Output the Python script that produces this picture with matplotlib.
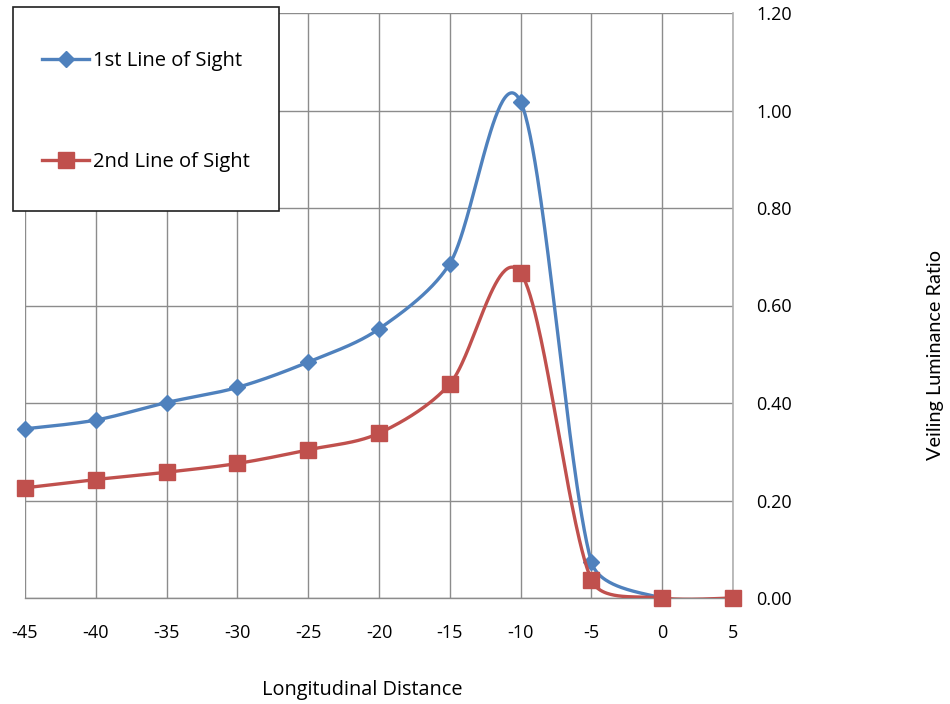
import numpy as np
import matplotlib
matplotlib.use("Agg")
import matplotlib.pyplot as plt
from matplotlib.patches import Rectangle
from matplotlib.lines import Line2D

plt.rcParams['font.family'] = ['Open Sans', 'DejaVu Sans']
plt.rcParams['axes.unicode_minus'] = False

distance = [-45, -40, -35, -30, -25, -20, -15, -10, -5, 0, 5]
first_sight = [0.347, 0.365, 0.401, 0.432, 0.484, 0.552, 0.686, 1.018, 0.074, 0.0, 0.0]
second_sight = [0.226, 0.243, 0.258, 0.276, 0.304, 0.338, 0.439, 0.667, 0.037, 0.0, 0.0]
x_ticks = [-45, -40, -35, -30, -25, -20, -15, -10, -5, 0, 5]
y_ticks = [0.0, 0.2, 0.4, 0.6, 0.8, 1.0, 1.2]

BLUE = '#4F81BD'
RED = '#C0504D'
GRID = '#8C8C8C'


def smooth(ax, xs, ys, n=60, k=1.0 / 3.0):
    """Cubic Bezier through every point (1/6 tangents), built in display space;
    each control arm is limited to k times its segment's chord."""
    p = ax.transData.transform(np.column_stack([xs, ys]).astype(float))
    m = len(p)
    out = []
    for i in range(m - 1):
        p0 = p[i - 1] if i > 0 else p[i]
        p1, p2 = p[i], p[i + 1]
        p3 = p[i + 2] if i + 2 < m else p[i + 1]
        chord = np.hypot(*(p2 - p1))
        a1 = (p2 - p0) / 6.0
        a2 = (p3 - p1) / 6.0
        for a in (a1, a2):
            ln = np.hypot(*a)
            if ln > k * chord > 0:
                a *= k * chord / ln
        c1 = p1 + a1
        c2 = p2 - a2
        t = np.linspace(0, 1, n)[:, None]
        seg = ((1 - t) ** 3) * p1 + 3 * ((1 - t) ** 2) * t * c1 \
            + 3 * (1 - t) * t ** 2 * c2 + t ** 3 * p2
        out.append(seg if i == 0 else seg[1:])
    s = ax.transData.inverted().transform(np.vstack(out))
    return s[:, 0], s[:, 1]


fig = plt.figure(figsize=(9.5, 7.04), dpi=100)
ax = fig.add_axes([25 / 950, 1 - 598 / 704, (733 - 25) / 950, (598 - 13) / 704])

ax.set_xlim(-45, 5)
ax.set_ylim(0, 1.2)
ax.set_xticks(x_ticks)
ax.set_yticks(y_ticks)
ax.set_yticklabels([f'{v:.2f}' for v in y_ticks])
ax.grid(True, color=GRID, lw=1.0)
ax.set_axisbelow(True)
ax.tick_params(length=0, labelsize=13, colors='#000000')
ax.tick_params(axis='x', pad=19)
ax.tick_params(axis='y', pad=17)
ax.yaxis.tick_right()
for lab in ax.get_yticklabels():
    lab.set_horizontalalignment('left')
for side in ['left', 'top']:
    ax.spines[side].set_visible(False)
ax.spines['bottom'].set_color(GRID)
ax.spines['right'].set_color('#B0B0B0')
ax.spines['bottom'].set_linewidth(1.0)
ax.spines['right'].set_linewidth(1.2)

bx, by = smooth(ax, distance, first_sight)
rx, ry = smooth(ax, distance, second_sight)
ax.plot(bx, by, color=BLUE, lw=2.4, solid_capstyle='round', zorder=3)
ax.plot(distance, first_sight, ls='none', marker='D', ms=8, color=BLUE, clip_on=False, zorder=4)
ax.plot(rx, ry, color=RED, lw=2.4, solid_capstyle='round', zorder=5)
ax.plot(distance, second_sight, ls='none', marker='s', ms=11, color=RED, clip_on=False, zorder=6)

fig.text(362 / 950, 1 - 690 / 704, 'Longitudinal Distance', ha='center', va='center',
         fontsize=14.3)
fig.text(935 / 950, 1 - 355 / 704, 'Veiling Luminance Ratio', rotation=90,
         ha='center', va='center', fontsize=14.3, family=['Lato', 'DejaVu Sans'])

# legend box
fig.patches.append(Rectangle((13 / 950, 1 - 211 / 704), 266 / 950, 204 / 704,
                             transform=fig.transFigure, facecolor='white',
                             edgecolor='#202020', lw=1.2, zorder=10))
handles = [Line2D([], [], color=BLUE, lw=2.4, marker='D', ms=8),
           Line2D([], [], color=RED, lw=2.4, marker='s', ms=11)]
leg = fig.legend(handles, ['1st Line of Sight', '2nd Line of Sight'],
                 loc='upper left', bbox_to_anchor=(32 / 950, 1 - 41 / 704),
                 frameon=False, fontsize=14.5, handlelength=2.35, handletextpad=0.2,
                 labelspacing=4.0, borderpad=0)
leg.set_zorder(11)

fig.savefig('out.png', dpi=100)
